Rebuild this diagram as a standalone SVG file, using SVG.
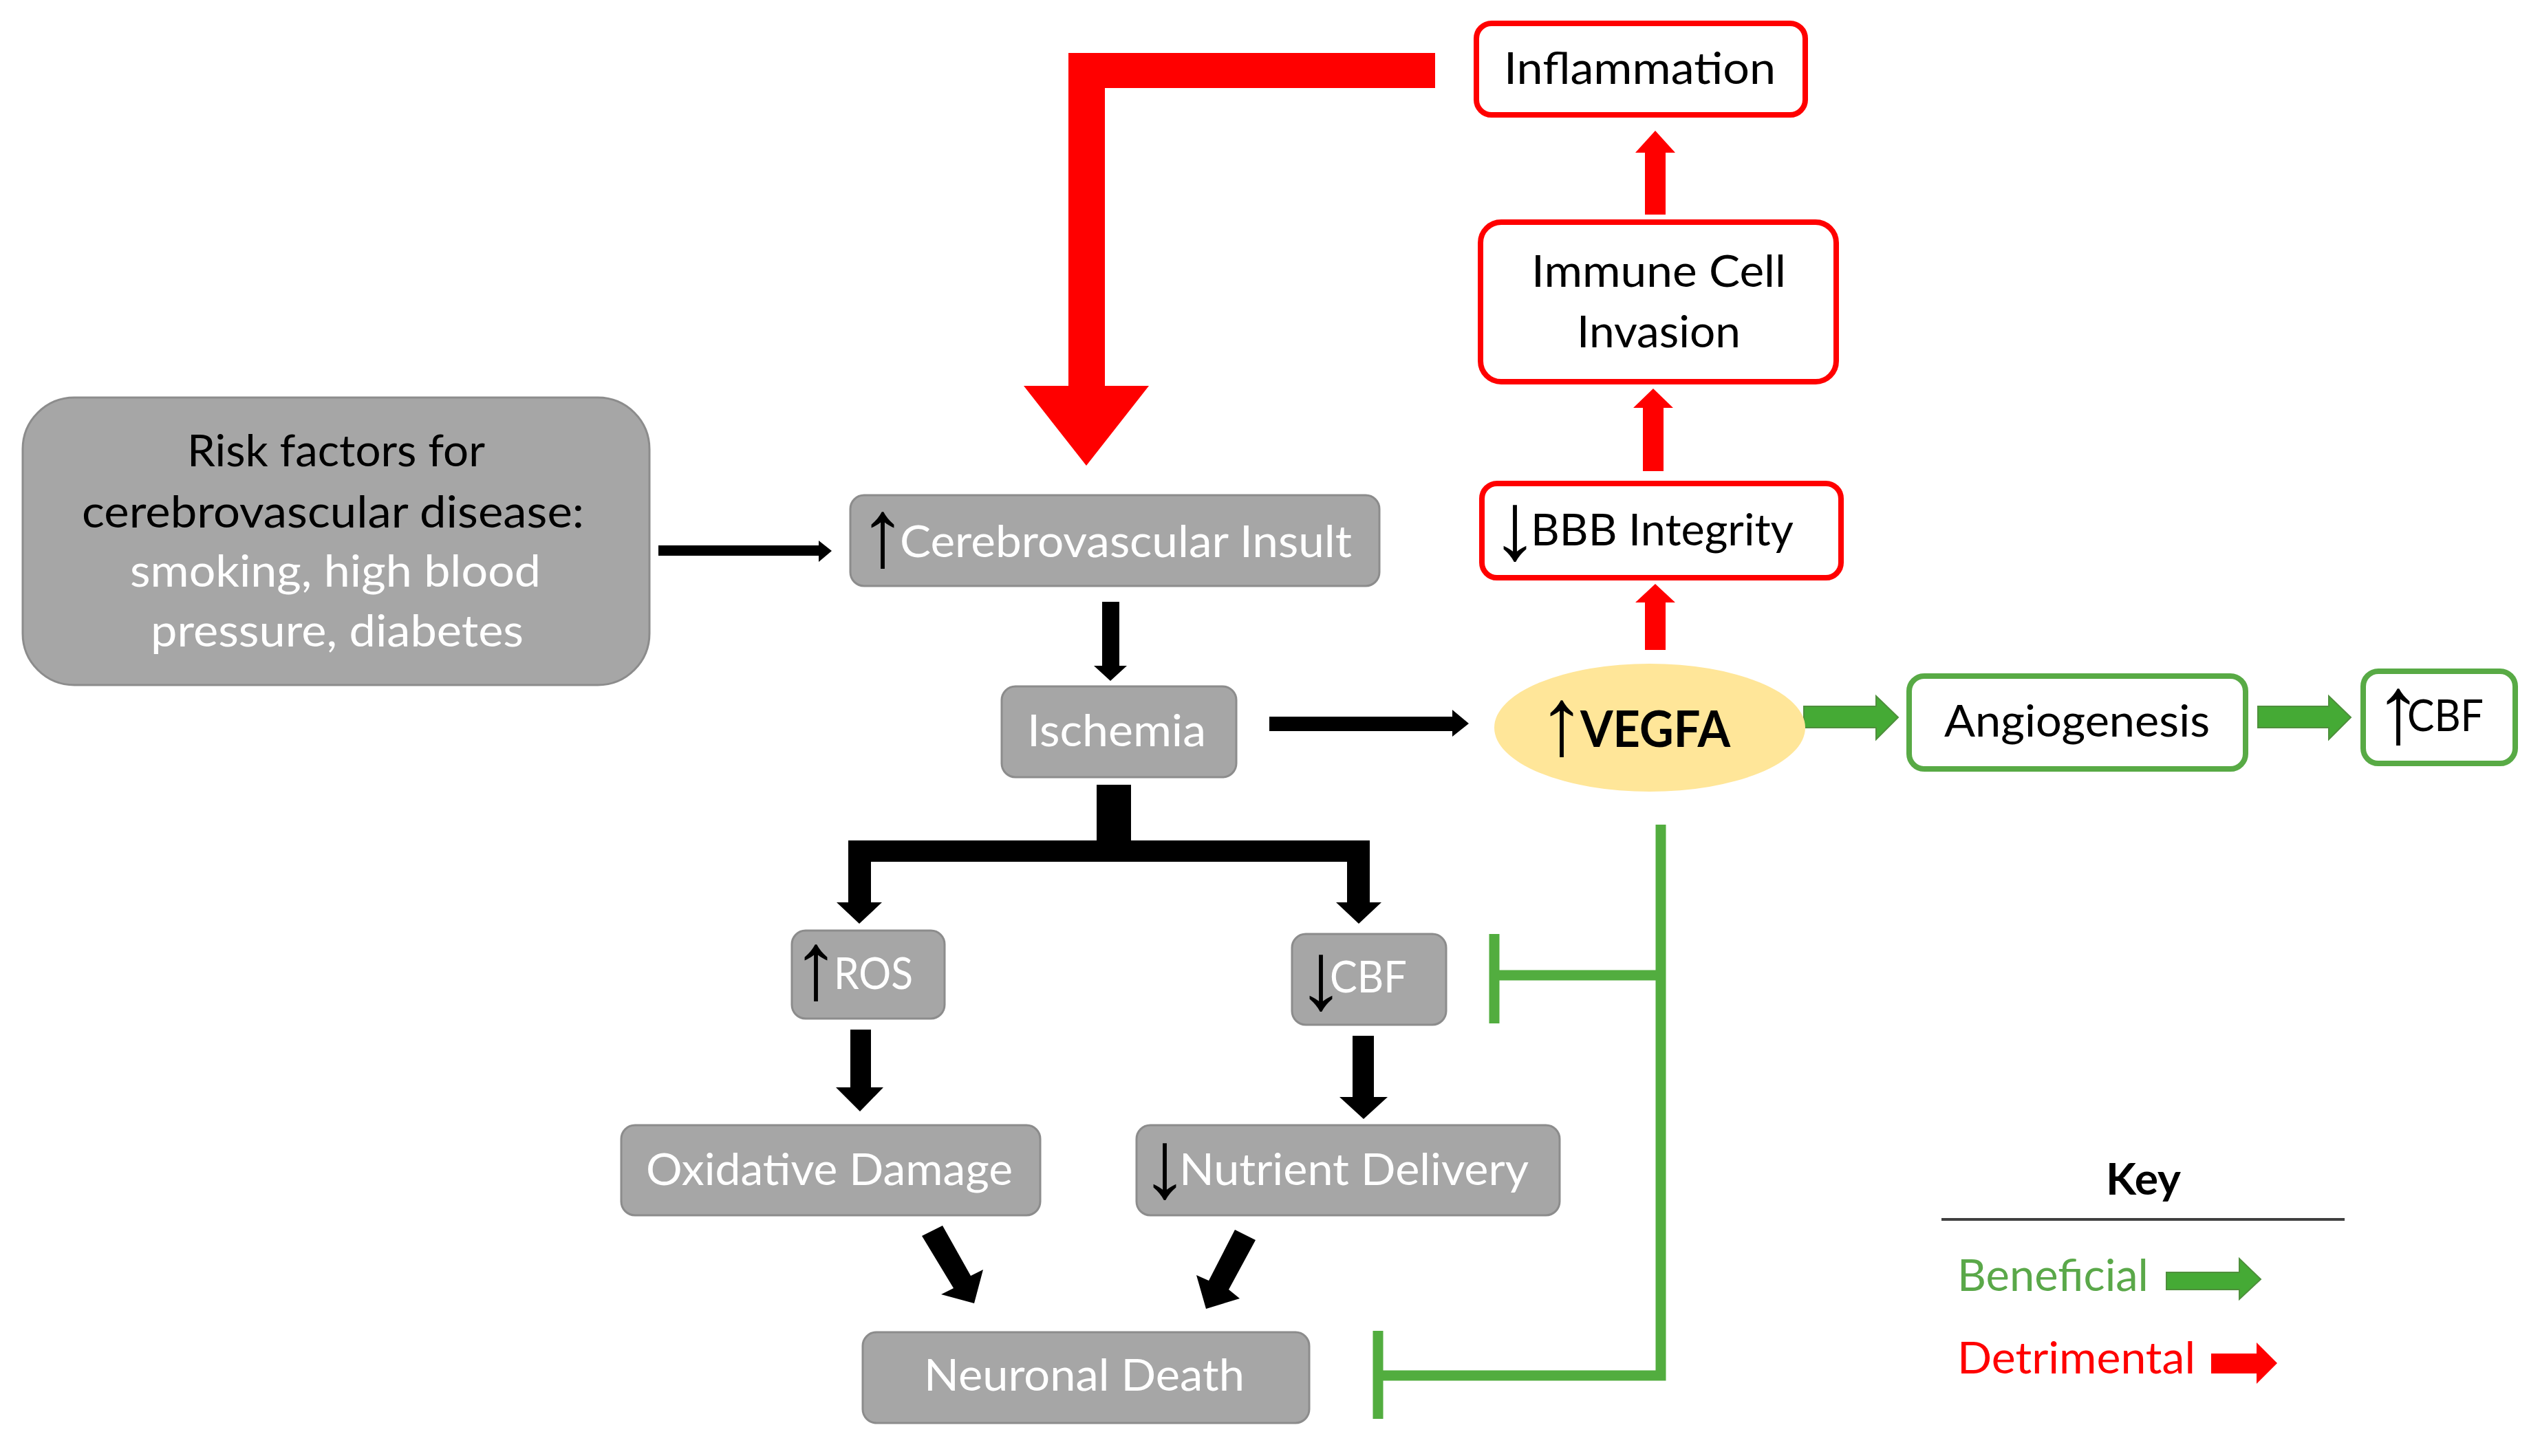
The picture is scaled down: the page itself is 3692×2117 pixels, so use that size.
<svg xmlns="http://www.w3.org/2000/svg" width="3692" height="2117" viewBox="0 0 3692 2117">
<defs>
<style>
.gray{fill:#A6A6A6;stroke:#8C8C8C;stroke-width:3}
.red{fill:#FFFFFF;stroke:#FF0000;stroke-width:8}
.green{fill:#FFFFFF;stroke:#58AA45;stroke-width:8}
.t{font-family:Lato,"Liberation Sans",sans-serif;font-size:64px}
.w{fill:#FFFFFF}
.k{fill:#000000}
.b{font-weight:bold}
.ar{font-family:"Liberation Sans",sans-serif;font-size:140px;font-weight:normal;fill:#000000}
.blk{fill:#000000}
.rf{fill:#FF0000}
.gf{fill:#45AA35;stroke:#4E8F3C;stroke-width:2}
.inh{fill:none;stroke:#52AD3F;stroke-width:15}
</style>
</defs>
<rect width="3692" height="2117" fill="#FFFFFF"/>

<g id="connectors">
<polygon class="rf" points="2086,77 1553,77 1553,561 1488,561 1579,677 1670,561 1606,561 1606,128 2086,128"/>
<polygon class="rf" points="2391,312 2391,222 2377,222 2406,190 2435,222 2421,222 2421,312"/>
<polygon class="rf" points="2388,685 2388,593 2374,593 2403,565 2432,593 2418,593 2418,685"/>
<polygon class="rf" points="2391,945 2391,876 2377,876 2406,849 2435,876 2421,876 2421,945"/>
<polygon class="blk" points="957,793 1190,793 1190,786 1209,801 1190,817 1190,808 957,808"/>
<polygon class="blk" points="1602,875 1627,875 1627,968 1638,968 1614,990 1590,968 1602,968"/>
<polygon class="blk" points="1845,1042 2111,1042 2111,1032 2135,1052 2111,1071 2111,1063 1845,1063"/>
<polygon class="blk" points="1594,1141 1644,1141 1644,1222 1991,1222 1991,1312 2008,1312 1975,1343 1942,1312 1958,1312 1958,1253 1266,1253 1266,1312 1282,1312 1249,1343 1216,1312 1233,1312 1233,1222 1594,1222"/>
<polygon class="blk" points="1236,1497 1266,1497 1266,1581 1284,1581 1250,1616 1215,1581 1236,1581"/>
<polygon class="blk" points="1966,1506 1997,1506 1997,1595 2017,1595 1982,1627 1947,1595 1966,1595"/>
<polygon class="blk" points="1340,1797 1370,1782 1411,1855 1429,1846 1416,1895 1368,1882 1386,1873"/>
<polygon class="blk" points="1795,1788 1825,1803 1786,1875 1802,1888 1753,1903 1739,1854 1757,1862"/>
<polygon class="gf" points="2622,1027 2727,1027 2727,1012 2759,1043 2727,1075 2727,1058 2622,1058"/>
<polygon class="gf" points="3282,1027 3385,1027 3385,1012 3417,1043 3385,1075 3385,1058 3282,1058"/>
<path class="inh" d="M2414,1199 V2000 H2003 M2414,1418 H2172"/>
<path class="inh" d="M2172,1358 V1488 M2003,1935 V2063"/>
</g>

<g id="node-inflammation">
<rect class="red" x="2146" y="34" width="478" height="133" rx="22"/>
<text class="t k" x="2186" y="122" textLength="395" lengthAdjust="spacingAndGlyphs">Inflammation</text>
</g>
<g id="node-immune">
<rect class="red" x="2152" y="323" width="517" height="232" rx="30"/>
<text class="t k"><tspan x="2226" y="417" textLength="370" lengthAdjust="spacingAndGlyphs">Immune Cell</tspan><tspan x="2292" y="505" textLength="238" lengthAdjust="spacingAndGlyphs">Invasion</tspan></text>
</g>
<g id="node-bbb">
<rect class="red" x="2154" y="703" width="522" height="137" rx="22"/>
<text class="t k"><tspan class="ar" x="2167" y="813">↓</tspan><tspan x="2225" y="793" textLength="382" lengthAdjust="spacingAndGlyphs">BBB Integrity</tspan></text>
</g>
<g id="node-vegfa">
<ellipse cx="2398" cy="1058" rx="226" ry="93" fill="#FFE699"/>
<text class="t k b" style="font-size:72px"><tspan class="ar" x="2235" y="1097">↑</tspan><tspan x="2297" y="1086" textLength="218" lengthAdjust="spacingAndGlyphs">VEGFA</tspan></text>
</g>
<g id="node-angiogenesis">
<rect class="green" x="2775" y="983" width="489" height="135" rx="22"/>
<text class="t k" x="2826" y="1071" textLength="386" lengthAdjust="spacingAndGlyphs">Angiogenesis</text>
</g>
<g id="node-cbf-up">
<rect class="green" x="3435" y="976" width="221" height="134" rx="22"/>
<text class="t k"><tspan class="ar" x="3451" y="1080">↑</tspan><tspan x="3499" y="1063" textLength="111" lengthAdjust="spacingAndGlyphs">CBF</tspan></text>
</g>
<g id="node-risk">
<rect class="gray" x="33" y="578" width="911" height="418" rx="75"/>
<text class="t k" x="272" y="678" textLength="433" lengthAdjust="spacingAndGlyphs">Risk factors for</text>
<text class="t k" x="119" y="767" textLength="730" lengthAdjust="spacingAndGlyphs">cerebrovascular disease:</text>
<text class="t w" x="189" y="853" textLength="597" lengthAdjust="spacingAndGlyphs">smoking, high blood</text>
<text class="t w" x="219" y="940" textLength="542" lengthAdjust="spacingAndGlyphs">pressure, diabetes</text>
</g>
<g id="node-insult">
<rect class="gray" x="1236" y="720" width="769" height="132" rx="20"/>
<text class="t w"><tspan class="ar" x="1248" y="823">↑</tspan><tspan x="1308" y="810" textLength="657" lengthAdjust="spacingAndGlyphs">Cerebrovascular Insult</tspan></text>
</g>
<g id="node-ischemia">
<rect class="gray" x="1456" y="998" width="341" height="132" rx="20"/>
<text class="t w" x="1493" y="1085" textLength="260" lengthAdjust="spacingAndGlyphs">Ischemia</text>
</g>
<g id="node-ros">
<rect class="gray" x="1151" y="1353" width="222" height="128" rx="20"/>
<text class="t w"><tspan class="ar" x="1151" y="1452">↑</tspan><tspan x="1212" y="1438" textLength="115" lengthAdjust="spacingAndGlyphs">ROS</tspan></text>
</g>
<g id="node-cbf-down">
<rect class="gray" x="1878" y="1358" width="224" height="132" rx="20"/>
<text class="t w"><tspan class="ar" x="1885" y="1467">↓</tspan><tspan x="1933" y="1443" textLength="112" lengthAdjust="spacingAndGlyphs">CBF</tspan></text>
</g>
<g id="node-oxidative">
<rect class="gray" x="903" y="1636" width="609" height="131" rx="20"/>
<text class="t w" x="939" y="1723" textLength="533" lengthAdjust="spacingAndGlyphs">Oxidative Damage</text>
</g>
<g id="node-nutrient">
<rect class="gray" x="1652" y="1636" width="615" height="131" rx="20"/>
<text class="t w"><tspan class="ar" x="1658" y="1741">↓</tspan><tspan x="1714" y="1723" textLength="508" lengthAdjust="spacingAndGlyphs">Nutrient Delivery</tspan></text>
</g>
<g id="node-neuronal">
<rect class="gray" x="1254" y="1937" width="649" height="132" rx="20"/>
<text class="t w" x="1343" y="2022" textLength="466" lengthAdjust="spacingAndGlyphs">Neuronal Death</text>
</g>

<g id="key">
<text class="t k b" x="3061" y="1737" textLength="109" lengthAdjust="spacingAndGlyphs">Key</text>
<line x1="2822" y1="1773" x2="3408" y2="1773" stroke="#404040" stroke-width="4"/>
<text class="t" fill="#5AA849" x="2845" y="1877" textLength="278" lengthAdjust="spacingAndGlyphs">Beneficial</text>
<polygon class="gf" points="3149,1850 3255,1850 3255,1830 3286,1860 3255,1889 3255,1875 3149,1875"/>
<text class="t" fill="#FF0000" x="2845" y="1997" textLength="346" lengthAdjust="spacingAndGlyphs">Detrimental</text>
<polygon class="rf" points="3214,1968 3280,1968 3280,1952 3310,1982 3280,2012 3280,1997 3214,1997"/>
</g>
</svg>
